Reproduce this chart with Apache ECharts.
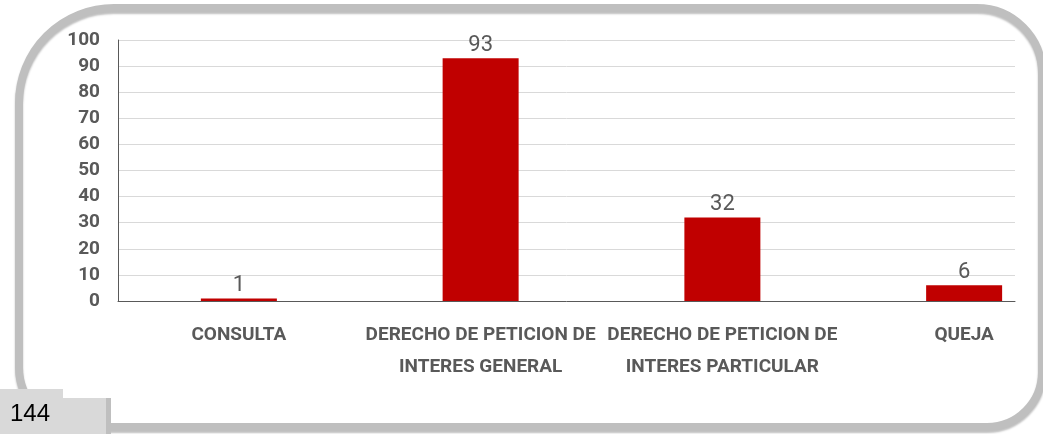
<!DOCTYPE html>
<html>
<head>
<meta charset="utf-8">
<script src="https://cdn.jsdelivr.net/npm/echarts@6/dist/echarts.min.js"></script>
<style>
  html, body { margin: 0; padding: 0; background: #fff; overflow: hidden; }
  #chart { width: 1100px; height: 434px; }
</style>
</head>
<body>
<div id="chart"></div>
<script>
// datos
const categories = [
  'CONSULTA',
  'DERECHO DE PETICION DE\nINTERES GENERAL',
  'DERECHO DE PETICION DE\nINTERES PARTICULAR',
  'QUEJA'
];
const values = [1, 93, 32, 6];
const yTicks = { min: 0, max: 100, step: 10 };
const totalLabel = '144';

const chart = echarts.init(document.getElementById('chart'));

const option = {
  animation: false,
  // grid 0: ejes y lineas guia, grid 1: barras (bandas un poco mas anchas)
  grid: [
    { left: 118, top: 40, width: 897, height: 261 },
    { left: 118, top: 40, width: 967, height: 261 }
  ],
  xAxis: [
    {
      gridIndex: 0, type: 'value', min: 0, max: 1,
      axisLine: { show: true, lineStyle: { color: '#595959', width: 1 } },
      axisTick: { show: false }, axisLabel: { show: false }, splitLine: { show: false }
    },
    {
      gridIndex: 1, type: 'category', data: categories,
      axisLine: { show: false }, axisTick: { show: false },
      axisLabel: {
        interval: 0, margin: 18,
        color: '#595959', fontFamily: 'Roboto', fontWeight: 'bold',
        fontSize: 19, lineHeight: 32
      }
    }
  ],
  yAxis: [
    {
      gridIndex: 0, type: 'value', min: yTicks.min, max: yTicks.max, interval: yTicks.step,
      axisLine: { show: true, lineStyle: { color: '#595959', width: 1 } },
      axisTick: { show: false },
      axisLabel: {
        margin: 18, color: '#595959', fontFamily: 'Roboto',
        fontWeight: 'bold', fontSize: 19
      },
      splitLine: { lineStyle: { color: '#d9d9d9', width: 1 } }
    },
    { gridIndex: 1, type: 'value', min: yTicks.min, max: yTicks.max, show: false }
  ],
  series: [{
    type: 'bar',
    xAxisIndex: 1, yAxisIndex: 1,
    data: values,
    barWidth: 76,
    itemStyle: { color: '#c00000' },
    label: {
      show: true, position: 'top', distance: 2,
      color: '#595959', fontFamily: 'Roboto', fontSize: 22
    }
  }],
  graphic: [
    {
      type: 'rect', z: -1,
      shape: { x: 19, y: 8, width: 1023, height: 419, r: [95, 65, 55, 60] },
      style: {
        fill: null, stroke: '#bfbfbf', lineWidth: 8,
        shadowColor: 'rgba(0,0,0,0.25)', shadowOffsetY: 2, shadowBlur: 2
      }
    },
    { type: 'rect', shape: { x: 0, y: 389, width: 63, height: 45 }, style: { fill: '#d9d9d9' } },
    { type: 'rect', shape: { x: 0, y: 398, width: 110, height: 36 }, style: { fill: '#d9d9d9' } },
    { type: 'rect', shape: { x: 106, y: 398, width: 5, height: 36 }, style: { fill: '#bfbfbf' } },
    {
      type: 'text', left: 10, top: 402,
      style: { text: totalLabel, fill: '#000', fontFamily: 'Liberation Sans', fontSize: 24 }
    }
  ]
};

chart.setOption(option);
</script>
</body>
</html>
